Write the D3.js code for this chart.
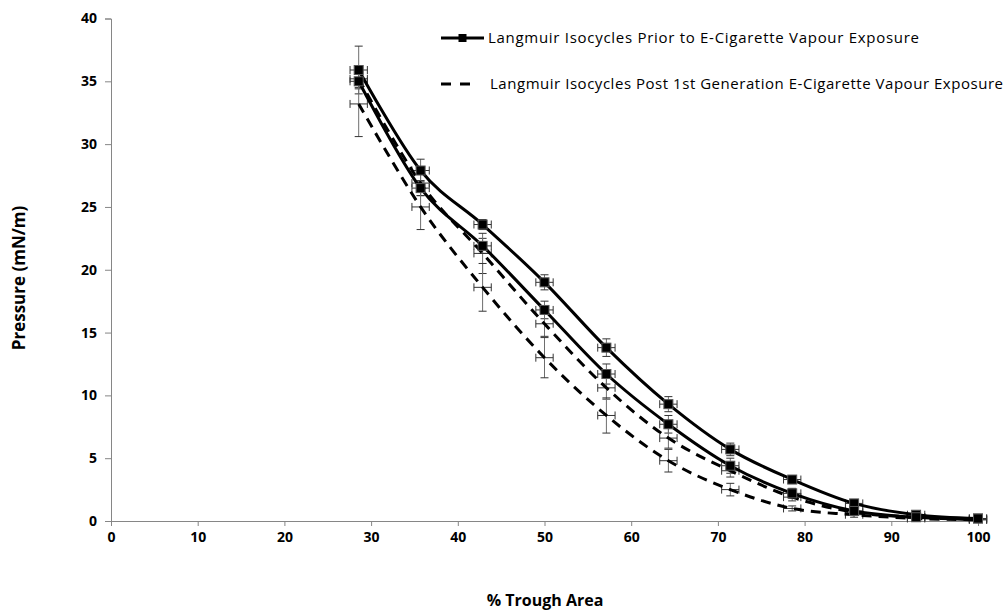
<!DOCTYPE html>
<html>
<head>
<meta charset="utf-8">
<script src="https://cdn.jsdelivr.net/npm/d3@7/dist/d3.min.js"></script>
<style>
  html, body { margin: 0; padding: 0; background: #fff; }
  svg { display: block; }
  text { font-family: "Open Sans", "Noto Sans", sans-serif; }
</style>
</head>
<body>
<svg id="chart" width="1008" height="615"></svg>
<script>
// % trough area at each isocycle step
const troughArea = [28.57, 35.71, 42.86, 50, 57.14, 64.29, 71.43, 78.57, 85.71, 92.86, 100];
const xErr = [1.0, 1.0, 1.0, 1.0, 1.0, 1.0, 1.0, 1.0, 1.0, 1.0, 1.0];

// Prior to exposure: two isocycles (solid, square markers)
const priorA = [35.9, 27.9, 23.6, 19.0, 13.8, 9.3, 5.7, 3.3, 1.4, 0.5, 0.2];
const priorAErr = [1.9, 0.9, 0.4, 0.6, 0.7, 0.6, 0.5, 0.3, 0.3, 0.2, 0.1];
const priorB = [35.0, 26.5, 21.9, 16.8, 11.7, 7.7, 4.4, 2.2, 0.8, 0.3, 0.2];
const priorBErr = [0.6, 0.6, 0.6, 0.7, 0.8, 0.7, 0.6, 0.4, 0.3, 0.2, 0.1];

// Post 1st generation e-cigarette vapour exposure: two isocycles (dashed)
const postA = [35.2, 26.9, 21.3, 15.7, 10.6, 6.6, 4.0, 1.9, 0.7, 0.3, 0.1];
const postAErr = [0.7, 1.0, 1.6, 1.0, 0.9, 0.8, 0.5, 0.3, 0.2, 0.1, 0.1];
const postB = [33.2, 25.0, 18.6, 13.0, 8.4, 4.8, 2.5, 1.0, 0.5, 0.2, 0.1];
const postBErr = [2.6, 1.8, 1.9, 1.6, 1.4, 0.9, 0.5, 0.2, 0.2, 0.1, 0.1];

const xTicks = [0, 10, 20, 30, 40, 50, 60, 70, 80, 90, 100];
const yTicks = [0, 5, 10, 15, 20, 25, 30, 35, 40];

const legendLabels = [
  "Langmuir Isocycles Prior to E-Cigarette Vapour Exposure",
  "Langmuir Isocycles Post 1st Generation E-Cigarette Vapour Exposure"
];

const svg = d3.select("#chart");
const axisColor = "#868686";
const errColor = "#6e6e6e";

const x = d3.scaleLinear().domain([0, 100]).range([111, 978]);
const y = d3.scaleLinear().domain([0, 40]).range([521, 18.5]);

// axes
const xAxis = d3.axisBottom(x).tickValues(xTicks).tickSize(5).tickPadding(6);
const yAxis = d3.axisLeft(y).tickValues(yTicks).tickSize(6).tickPadding(8);

const gx = svg.append("g").attr("transform", `translate(0,${y(0)})`).call(xAxis);
const gy = svg.append("g").attr("transform", `translate(${x(0)},0)`).call(yAxis);
[gx, gy].forEach(g => {
  g.select(".domain").attr("stroke", axisColor);
  g.selectAll(".tick line").attr("stroke", axisColor);
  g.selectAll(".tick text")
    .attr("fill", "#000")
    .style("font-family", "'Open Sans', sans-serif")
    .style("font-size", "14px")
    .style("font-weight", "bold");
});

// axis titles
svg.append("text")
  .attr("x", 545).attr("y", 606)
  .attr("text-anchor", "middle")
  .style("font-size", "16px").style("font-weight", "bold")
  .text("% Trough Area");
svg.append("text")
  .attr("transform", "translate(25,278) rotate(-90)")
  .attr("text-anchor", "middle")
  .style("font-size", "17px").style("font-weight", "bold")
  .text("Pressure (mN/m)");

const series = [
  { vals: priorA, err: priorAErr, dashed: false },
  { vals: priorB, err: priorBErr, dashed: false },
  { vals: postA, err: postAErr, dashed: true },
  { vals: postB, err: postBErr, dashed: true }
];

const pts = s => troughArea.map((xv, i) => ({ x: xv, y: s.vals[i], ye: s.err[i], xe: xErr[i] }));

// error bars
const errG = svg.append("g").attr("stroke", errColor).attr("stroke-width", 1).attr("fill", "none");
const cap = 4;
series.forEach(s => {
  pts(s).forEach(p => {
    const cx = x(p.x), cy = y(p.y);
    const y1 = y(p.y + p.ye), y2 = y(Math.max(0, p.y - p.ye));
    const x1 = x(p.x - p.xe), x2 = x(p.x + p.xe);
    errG.append("line").attr("x1", cx).attr("x2", cx).attr("y1", y1).attr("y2", y2);
    errG.append("line").attr("x1", cx - cap).attr("x2", cx + cap).attr("y1", y1).attr("y2", y1).attr("stroke", "#333");
    errG.append("line").attr("x1", cx - cap).attr("x2", cx + cap).attr("y1", y2).attr("y2", y2).attr("stroke", "#333");
    errG.append("line").attr("x1", x1).attr("x2", x2).attr("y1", cy).attr("y2", cy).attr("stroke", "#333");
    errG.append("line").attr("x1", x1).attr("x2", x1).attr("y1", cy - cap).attr("y2", cy + cap).attr("stroke", "#333");
    errG.append("line").attr("x1", x2).attr("x2", x2).attr("y1", cy - cap).attr("y2", cy + cap).attr("stroke", "#333");
  });
});

// smoothed curves
const line = d3.line().x(d => x(d.x)).y(d => y(d.y)).curve(d3.curveCardinal.tension(0));
series.forEach(s => {
  svg.append("path")
    .datum(pts(s))
    .attr("d", line)
    .attr("fill", "none")
    .attr("stroke", "#000")
    .attr("stroke-width", 3)
    .attr("stroke-dasharray", s.dashed ? "10,7" : null);
});

// square markers on the prior-exposure isocycles
const msz = 9;
series.filter(s => !s.dashed).forEach(s => {
  svg.append("g").selectAll("rect")
    .data(pts(s))
    .join("rect")
    .attr("x", d => x(d.x) - msz / 2)
    .attr("y", d => y(d.y) - msz / 2)
    .attr("width", msz).attr("height", msz)
    .attr("fill", "#000")
    .attr("stroke", "#555").attr("stroke-width", 1);
});

// legend
const lg = svg.append("g");
lg.append("line").attr("x1", 441).attr("x2", 484).attr("y1", 38).attr("y2", 38)
  .attr("stroke", "#000").attr("stroke-width", 3);
lg.append("rect").attr("x", 458.5).attr("y", 34).attr("width", 8).attr("height", 8).attr("fill", "#000");
lg.append("line").attr("x1", 441).attr("x2", 471).attr("y1", 84).attr("y2", 84)
  .attr("stroke", "#000").attr("stroke-width", 3).attr("stroke-dasharray", "10,9");
lg.append("text").attr("x", 488).attr("y", 43).style("font-size", "15px")
  .attr("textLength", 431).attr("lengthAdjust", "spacing").text(legendLabels[0]);
lg.append("text").attr("x", 490).attr("y", 89).style("font-size", "15px")
  .attr("textLength", 513).attr("lengthAdjust", "spacing").text(legendLabels[1]);
</script>
</body>
</html>
